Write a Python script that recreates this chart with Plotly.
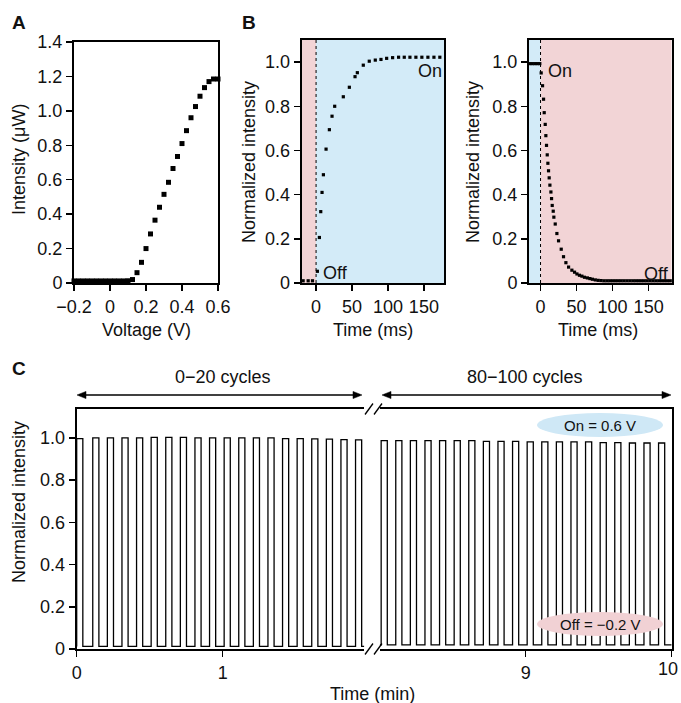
import plotly.graph_objects as go

W, H = 681, 703
FONT = "Liberation Sans, Arial, Helvetica, sans-serif"
TXT = "#111111"
PINK = "#F2D4D6"
BLUE = "#D3EBF8"
FS = 18


def px(x):
    return x / W


def py(y):
    return 1 - y / H


# ---------------- Panel A: intensity vs voltage ----------------
voltage = [-0.2, -0.175, -0.15, -0.125, -0.1, -0.075, -0.05, -0.025, 0.0, 0.025, 0.05,
           0.075, 0.1, 0.125, 0.15, 0.175, 0.2, 0.225, 0.25, 0.275, 0.3, 0.325, 0.35,
           0.375, 0.4, 0.425, 0.45, 0.475, 0.5, 0.525, 0.55, 0.575, 0.6]
intensity = [0.012, 0.012, 0.012, 0.012, 0.012, 0.012, 0.012, 0.012, 0.012, 0.012, 0.012,
             0.012, 0.013, 0.02, 0.06, 0.12, 0.2, 0.285, 0.365, 0.44, 0.515, 0.585, 0.665,
             0.735, 0.81, 0.885, 0.96, 1.025, 1.085, 1.135, 1.17, 1.185, 1.185]
a_xticks = [-0.2, 0, 0.2, 0.4, 0.6]
a_xticktext = ["\u22120.2", "0", "0.2", "0.4", "0.6"]
a_yticks = [0, 0.2, 0.4, 0.6, 0.8, 1.0, 1.2, 1.4]
a_yticktext = ["0", "0.2", "0.4", "0.6", "0.8", "1.0", "1.2", "1.4"]

# ---------------- Panel B: switching kinetics ----------------
t_rise = [-18, -11, -5, 1.8, 4.6, 6.5, 8.3, 10.2, 13.9, 18.5, 22.2, 25.9, 37.9, 46.3,
          54.2, 57.4, 65.7, 74.0, 82.4, 90.3, 98.2, 106.5, 114.8, 122.7, 130.6, 138.9,
          147.2, 155.6, 164.0, 172.2]
y_rise = [0.01, 0.01, 0.01, 0.053, 0.206, 0.323, 0.41, 0.49, 0.606, 0.694, 0.755, 0.80,
          0.843, 0.886, 0.934, 0.952, 0.986, 1.004, 1.009, 1.012, 1.017, 1.02, 1.022,
          1.022, 1.022, 1.022, 1.022, 1.022, 1.022, 1.022]

t_decay = [-15, -11.5, -8, -4.5, -1, 0.9, 2.8, 4.2, 5.1, 6.5, 7.4, 8.3, 9.3, 10.2, 11.1,
           12.0, 13.0, 14.4, 15.3, 16.2, 17.6, 18.5, 20.4, 22.7, 25.0, 28.7, 31.9, 35.2,
           38.9, 43.5, 47.2, 50.5, 54.0, 57.4, 61.0, 65.0, 68.5, 72.0, 76.0, 80.0, 84.0,
           88, 92, 96, 100, 104, 108, 112, 116, 120, 124, 128, 132, 136, 140, 144, 148,
           152, 156, 160, 164, 168, 172, 176, 180]
y_decay = [0.993, 0.993, 0.993, 0.993, 0.993, 0.951, 0.893, 0.832, 0.771, 0.718, 0.667,
           0.623, 0.58, 0.542, 0.508, 0.476, 0.443, 0.412, 0.382, 0.351, 0.325, 0.298,
           0.267, 0.224, 0.191, 0.153, 0.119, 0.092, 0.072, 0.058, 0.049, 0.041, 0.035,
           0.031, 0.026, 0.023, 0.02, 0.017, 0.014, 0.012, 0.011,
           0.01, 0.01, 0.01, 0.01, 0.01, 0.01, 0.01, 0.01, 0.01, 0.01, 0.01, 0.01, 0.01,
           0.01, 0.01, 0.01, 0.01, 0.01, 0.01, 0.01, 0.01, 0.01, 0.01, 0.01]
b_xticks = [0, 50, 100, 150]
b_yticks = [0, 0.2, 0.4, 0.6, 0.8, 1.0]
b_yticktext = ["0", "0.2", "0.4", "0.6", "0.8", "1.0"]
b1_range = [-20, 178]
b2_range = [-16, 182]

# ---------------- Panel C: cycling ----------------
c_left_on = [0.00, 0.11, 0.21, 0.31, 0.41, 0.51, 0.61, 0.71, 0.81, 0.91,
             1.01, 1.11, 1.21, 1.31, 1.41, 1.51, 1.61, 1.71, 1.81, 1.91]
c_left_high = [0.997, 1.0, 1.0, 1.0, 1.0, 1.003, 1.003, 1.003, 1.0, 1.0,
               1.0, 1.0, 1.0, 1.0, 0.997, 0.997, 0.995, 0.994, 0.992, 0.991]
c_left_low = [0.012] * 20
c_right_on = [8.01, 8.11, 8.21, 8.31, 8.41, 8.51, 8.61, 8.71, 8.81, 8.91,
              9.01, 9.11, 9.21, 9.31, 9.41, 9.51, 9.61, 9.71, 9.81, 9.91]
c_right_high = [0.987, 0.987, 0.987, 0.987, 0.987, 0.987, 0.987, 0.984, 0.984, 0.984,
                0.981, 0.981, 0.981, 0.981, 0.981, 0.978, 0.978, 0.976, 0.976, 0.976]
c_right_low = [0.02] * 20
ON_WIDTH = 0.042  # min, duration of the "on" state as drawn
c_left_range = [0, 1.97]
c_right_range = [8.0, 10.0]
c_yrange = [0, 1.137]
c_yticks = [0, 0.2, 0.4, 0.6, 0.8, 1.0]


def square_wave(starts, highs, lows, t0, t1):
    xs, ys = [t0], [lows[0]]
    for s, hi, lo in zip(starts, highs, lows):
        xs += [s, s, s + ON_WIDTH, s + ON_WIDTH]
        ys += [lo, hi, hi, lo]
    xs.append(t1)
    ys.append(lows[-1])
    return xs, ys


fig = go.Figure()

fig.add_trace(go.Scatter(x=voltage, y=intensity, mode="markers", xaxis="x", yaxis="y",
                         marker=dict(symbol="square", size=5, color="black"),
                         cliponaxis=False, showlegend=False))
fig.add_trace(go.Scatter(x=t_rise, y=y_rise, mode="markers", xaxis="x2", yaxis="y2",
                         marker=dict(symbol="square", size=3.2, color="black"),
                         cliponaxis=False, showlegend=False))
fig.add_trace(go.Scatter(x=t_decay, y=y_decay, mode="markers", xaxis="x3", yaxis="y3",
                         marker=dict(symbol="square", size=3.2, color="black"),
                         cliponaxis=False, showlegend=False))

lx, ly = square_wave(c_left_on, c_left_high, c_left_low, c_left_range[0], c_left_range[1])
rx, ry = square_wave(c_right_on, c_right_high, c_right_low, c_right_range[0], c_right_range[1])
fig.add_trace(go.Scatter(x=lx, y=ly, mode="lines", xaxis="x4", yaxis="y4",
                         line=dict(color="black", width=1.3), showlegend=False))
fig.add_trace(go.Scatter(x=rx, y=ry, mode="lines", xaxis="x5", yaxis="y5",
                         line=dict(color="black", width=1.3), showlegend=False))

common = dict(showline=True, linecolor="black", linewidth=2, mirror=True,
              ticks="outside", ticklen=6, tickwidth=1.5, tickcolor="black",
              showgrid=False, zeroline=False, automargin=False,
              tickfont=dict(family=FONT, size=FS, color=TXT))

yA = [py(283), py(42)]
yB = [py(283), py(40)]
yC = [py(649), py(409)]

layout = dict(
    template="none",
    width=W, height=H, margin=dict(l=0, r=0, t=0, b=0, pad=0, autoexpand=False),
    paper_bgcolor="white", plot_bgcolor="white",
    font=dict(family=FONT, size=FS, color=TXT),
    showlegend=False,
    xaxis=dict(common, domain=[px(74), px(218)], range=[-0.2, 0.6],
               tickvals=a_xticks, ticktext=a_xticktext, anchor="y"),
    yaxis=dict(common, domain=yA, range=[0, 1.4], tickvals=a_yticks,
               ticktext=a_yticktext, anchor="x"),
    xaxis2=dict(common, domain=[px(301.7), px(444)], range=b1_range,
                tickvals=b_xticks, anchor="y2"),
    yaxis2=dict(common, domain=yB, range=[0, 1.1], tickvals=b_yticks,
                ticktext=b_yticktext, anchor="x2"),
    xaxis3=dict(common, domain=[px(529), px(671.7)], range=b2_range,
                tickvals=b_xticks, anchor="y3"),
    yaxis3=dict(common, domain=yB, range=[0, 1.1], tickvals=b_yticks,
                ticktext=b_yticktext, anchor="x3"),
    xaxis4=dict(common, domain=[px(76.7), px(364.3)], range=c_left_range,
                tickvals=[0, 1], anchor="y4"),
    yaxis4=dict(common, domain=yC, range=c_yrange, tickvals=c_yticks,
                ticktext=b_yticktext, anchor="x4", mirror=False),
    xaxis5=dict(common, domain=[px(379.7), px(671.7)], range=c_right_range,
                tickvals=[9, 10], ticktext=["9", ""], anchor="y5"),
    yaxis5=dict(common, domain=yC, range=c_yrange, anchor="x5", side="right",
                mirror=False, ticks="", showticklabels=False),
)
fig.update_layout(**layout)

shapes = []
# Panel B background states
shapes += [
    dict(type="rect", xref="x2", yref="y2 domain", x0=b1_range[0], x1=0, y0=0, y1=1,
         fillcolor=PINK, line=dict(width=0), layer="below"),
    dict(type="rect", xref="x2", yref="y2 domain", x0=0, x1=b1_range[1], y0=0, y1=1,
         fillcolor=BLUE, line=dict(width=0), layer="below"),
    dict(type="rect", xref="x3", yref="y3 domain", x0=b2_range[0], x1=0, y0=0, y1=1,
         fillcolor=BLUE, line=dict(width=0), layer="below"),
    dict(type="rect", xref="x3", yref="y3 domain", x0=0, x1=b2_range[1], y0=0, y1=1,
         fillcolor=PINK, line=dict(width=0), layer="below"),
    dict(type="line", xref="x2", yref="y2 domain", x0=0, x1=0, y0=0, y1=1,
         line=dict(color="black", width=1, dash="dot")),
    dict(type="line", xref="x3", yref="y3 domain", x0=0, x1=0, y0=0, y1=1,
         line=dict(color="black", width=1, dash="dot")),
]

# Panel C state ellipses (drawn over the trace, as in the original)
shapes += [
    dict(type="circle", xref="paper", yref="paper", x0=px(537), x1=px(663),
         y0=py(437), y1=py(413), fillcolor="#CFE8F6", line=dict(width=0), layer="above"),
    dict(type="circle", xref="paper", yref="paper", x0=px(537), x1=px(663),
         y0=py(636), y1=py(612), fillcolor="#F1D1D4", line=dict(width=0), layer="above"),
]


# Panel C double arrows
def double_arrow(x0, x1, y):
    hl, hw = 9, 3.6
    out = [dict(type="line", xref="paper", yref="paper", x0=px(x0 + 2), x1=px(x1 - 2),
                y0=py(y), y1=py(y), line=dict(color="black", width=1.3))]
    for tip, base in ((x0, x0 + hl), (x1, x1 - hl)):
        path = "M {} {} L {} {} L {} {} Z".format(px(tip), py(y), px(base), py(y - hw),
                                                  px(base), py(y + hw))
        out.append(dict(type="path", xref="paper", yref="paper", path=path,
                        fillcolor="black", line=dict(color="black", width=0.5)))
    return out


shapes += double_arrow(77, 362, 395)
shapes += double_arrow(382, 671, 395)

# axis break marks
for yb in (409, 649):
    for xo in (365, 374):
        shapes.append(dict(type="line", xref="paper", yref="paper",
                           x0=px(xo), y0=py(yb + 5.5), x1=px(xo + 8), y1=py(yb - 5.5),
                           line=dict(color="black", width=1.3)))

fig.update_layout(shapes=shapes)


def ann(text, x, y, size=FS, xanchor="center", yanchor="middle", angle=0, bold=False):
    return dict(text="<b>%s</b>" % text if bold else text, x=px(x), y=py(y),
                xref="paper", yref="paper", showarrow=False, xanchor=xanchor,
                yanchor=yanchor, textangle=angle,
                font=dict(family=FONT, size=size, color=TXT))


annotations = [
    ann("A", 19, 22.5, size=19, bold=True),
    ann("B", 249, 22.5, size=19, bold=True),
    ann("C", 19, 368.5, size=19, bold=True),
    ann("Intensity (\u03bcW)", 19, 160, angle=-90),
    ann("Voltage (V)", 146, 330),
    ann("Normalized intensity", 249, 162, angle=-90),
    ann("Time (ms)", 373, 330),
    ann("Normalized intensity", 473, 162, angle=-90),
    ann("Time (ms)", 598, 330),
    ann("On", 444, 71, xanchor="right"),
    ann("Off", 321, 273, xanchor="left"),
    ann("On", 546, 71, xanchor="left"),
    ann("Off", 671, 274, xanchor="right"),
    ann("Normalized intensity", 19, 502, angle=-90),
    ann("Time (min)", 372, 694),
    ann("10", 680, 669, xanchor="right"),
    ann("0\u221220 cycles", 223, 377),
    ann("80\u2212100 cycles", 525, 377),
    ann("On = 0.6 V", 600, 425, size=15),
    ann("Off = \u22120.2 V", 600, 624, size=15),
]
fig.update_layout(annotations=annotations)

fig.write_html("out.html",
               config={"displayModeBar": False, "staticPlot": True},
               post_script="document.body.style.margin='0';"
                           "document.body.style.overflow='hidden';")
